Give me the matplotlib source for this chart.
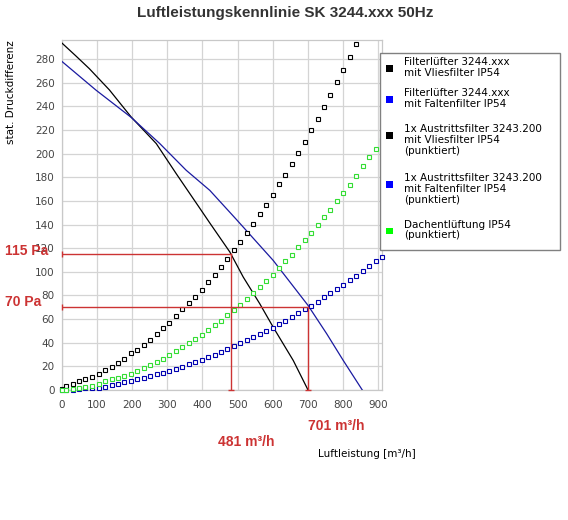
import matplotlib
matplotlib.use('Agg')
import matplotlib.pyplot as plt
from matplotlib.patches import Rectangle

# --- data ---
# solid fan curves (Filterlüfter)
fan_vlies_x = [0, 40, 79, 136, 198, 269, 326, 390, 421, 478, 516, 563, 601, 658, 700]
fan_vlies_y = [294, 283, 272, 254, 231, 208.6, 183, 155, 141.4, 116.8, 95.6, 73, 53.2, 25, 0]
fan_falten_x = [0, 98, 198, 279, 354, 421, 497, 601, 700, 753, 800, 854]
fan_falten_y = [278.4, 253.8, 230.7, 208.6, 186, 169, 144.2, 109.7, 71.6, 47.6, 25, 0]

# dotted resistance curves
dots_x_short = [0, 13, 32, 49, 68, 86, 106, 123, 143, 160, 177, 197, 214, 234, 251, 271,
                288, 305, 325, 342, 362, 379, 399, 416, 436, 453, 470, 490, 507, 527,
                544, 564, 581, 601, 618, 635, 655, 672, 692, 709, 729, 746, 763, 783,
                800, 820, 837]
dots_x_long = dots_x_short + [857, 874, 894, 911]
austritt_vlies_y = [1, 3, 4.7, 7.2, 8.9, 11.2, 13.7, 17.1, 19.7, 23, 26.4, 30.9, 34, 38.3,
                    42.5, 47.6, 52.7, 57, 62.9, 68.8, 73.9, 79, 84.9, 91.7, 97.6, 104.4,
                    111.2, 118.8, 125.6, 133.2, 140.8, 149.3, 157, 165.4, 174, 182.4,
                    191.7, 201, 210.3, 219.7, 229.8, 239.2, 249.3, 260.3, 270.5, 281.5, 292.5]
austritt_falten_y = [0, 0.2, 0.4, 0.6, 1.3, 1.6, 2.0, 2.7, 3.9, 5.2, 6.4, 7.6, 9.2, 10.4,
                     12.0, 13.4, 14.8, 16.3, 18.0, 19.7, 22.0, 23.9, 25.6, 27.9, 29.8, 32.2,
                     34.7, 37.3, 39.4, 41.9, 45.0, 47.6, 50.2, 52.8, 56.0, 58.7, 62.0, 65.4,
                     68.8, 71.5, 74.8, 78.8, 82.3, 85.8, 89.2, 93.3, 96.8, 101.0, 105.3,
                     109.5, 112.9]
dach_y = [0, 0.4, 1, 1.9, 2.7, 3.6, 5.3, 7.2, 8.9, 10.3, 12, 13.7, 16.3, 18.8, 21.4, 23.9,
          26.4, 29.8, 33.2, 36.6, 40, 43.4, 46.8, 51, 55.3, 58.6, 63.7, 68, 72.2, 77.3,
          82.4, 87.5, 92.5, 97.6, 103.6, 109.5, 114.6, 121.4, 127.3, 133.2, 140, 146.8,
          152.7, 160.3, 167.1, 173.9, 181.5, 189.2, 196.8, 204.4, 212]

# operating points
op_flow = [481, 701]
op_press = [115, 70]

legend_labels = ['Filterlüfter 3244.xxx\nmit Vliesfilter IP54',
                 'Filterlüfter 3244.xxx\nmit Faltenfilter IP54',
                 '1x Austrittsfilter 3243.200\nmit Vliesfilter IP54\n(punktiert)',
                 '1x Austrittsfilter 3243.200\nmit Faltenfilter IP54\n(punktiert)',
                 'Dachentlüftung IP54\n(punktiert)']
legend_colors = ['#000000', '#0000ff', '#000000', '#0000ff', '#00ff00']
legend_top_px = [57, 88, 124.5, 173, 219.5]

W, H = 568, 520
RED = '#cc3333'
fig = plt.figure(figsize=(W / 100, H / 100), dpi=100)
fig.patch.set_facecolor('white')
ax = fig.add_axes([61.5 / W, 1 - 390 / H, 320.5 / W, 349.7 / H])
ax.set_xlim(0, 910)
ax.set_ylim(0, 296)
ax.set_xticks(range(0, 901, 100))
ax.set_yticks(range(0, 281, 20))
ax.grid(True, color='#d4d4d4', lw=0.9)
ax.set_axisbelow(True)
for s in ax.spines.values():
    s.set_color('#c8c8c8')
    s.set_linewidth(0.9)
ax.tick_params(length=0, labelsize=7.5, labelcolor='#444444', pad=5)
ax.tick_params(axis='x', pad=7)

# solid curves
ax.plot(fan_vlies_x, fan_vlies_y, color='#000000', lw=0.9, zorder=3)
ax.plot(fan_falten_x, fan_falten_y, color='#1a1aa0', lw=0.9, zorder=3)

# dotted curves (hollow squares)
mk = dict(ls='none', marker='s', ms=2.5, mew=0.8, mfc='white', zorder=4, clip_on=False)
ax.plot(dots_x_short, austritt_vlies_y, mec='#000000', **mk)
ax.plot(dots_x_long, austritt_falten_y, mec='#0000b0', **mk)
ax.plot(dots_x_long, dach_y, mec='#33dd33', **mk)

# operating point guide lines
for q, p in zip(op_flow, op_press):
    ax.plot([0, q], [p, p], color=RED, lw=1.0, zorder=5)
    ax.plot([q, q], [0, p], color=RED, lw=1.0, zorder=5)
    ax.plot([0], [p], marker='|', color=RED, ms=4, mew=1, zorder=5, clip_on=False)
    ax.plot([q], [0], marker='_', color=RED, ms=4, mew=1, zorder=5, clip_on=False)

# red value labels
lbl = dict(color=RED, fontsize=10, fontweight='bold', family='Liberation Sans', va='center')
fig.text(5 / W, 1 - 251 / H, f'{op_press[0]} Pa', ha='left', **lbl)
fig.text(5 / W, 1 - 301.5 / H, f'{op_press[1]} Pa', ha='left', **lbl)
fig.text(246.5 / W, 1 - 441.5 / H, f'{op_flow[0]} m³/h', ha='center', **lbl)
fig.text(336 / W, 1 - 426.5 / H, f'{op_flow[1]} m³/h', ha='center', **lbl)

# titles / axis labels
fig.text(285 / W, 1 - 13 / H, 'Luftleistungskennlinie SK 3244.xxx 50Hz', color='#333333',
         fontsize=11, fontweight='bold', family='Liberation Sans', ha='center', va='center')
fig.text(11.5 / W, 1 - 40 / H, 'stat. Druckdifferenz', rotation=90, fontsize=7.5,
         ha='center', va='top', color='#000000')
fig.text(366.5 / W, 1 - 454 / H, 'Luftleistung [m³/h]', fontsize=7.5,
         ha='center', va='center', color='#000000')

# legend box drawn by hand
fig.patches.append(Rectangle((379.5 / W, 1 - 249.5 / H), 180 / W, 196.5 / H,
                             transform=fig.transFigure, facecolor='white',
                             edgecolor='#808080', lw=1.0, zorder=10))
for lab, col, top in zip(legend_labels, legend_colors, legend_top_px):
    fig.patches.append(Rectangle((386.3 / W, 1 - (top + 14.5) / H), 6.5 / W, 6.5 / H,
                                 transform=fig.transFigure, facecolor=col,
                                 edgecolor='none', zorder=11))
    fig.text(404 / W, 1 - top / H, lab, fontsize=7.5, ha='left', va='top',
             linespacing=1.12, color='#000000', zorder=12)

fig.savefig('out.png', dpi=100, facecolor='white')
